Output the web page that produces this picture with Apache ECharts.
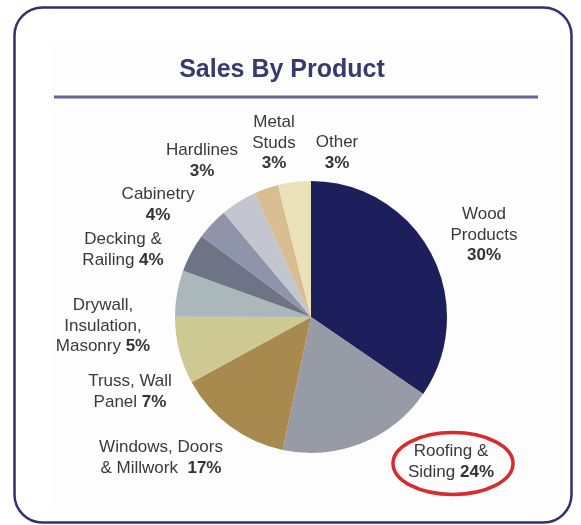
<!DOCTYPE html>
<html><head><meta charset="utf-8">
<script src="https://cdn.jsdelivr.net/npm/echarts@6/dist/echarts.min.js"></script>
<style>html,body{margin:0;padding:0;background:#fff}#c{width:581px;height:525px}</style>
</head><body><div id="c"></div>
<script>
// ---- data ----
const categories = ['Wood Products','Roofing & Siding','Windows, Doors & Millwork','Truss, Wall Panel','Drywall, Insulation, Masonry','Decking & Railing','Cabinetry','Hardlines','Metal Studs','Other'];
// percentages printed on the chart
const labelPct = [30, 24, 17, 7, 5, 4, 4, 3, 3, 3];
// slice sizes as they are drawn in the picture (share of circle, %)
const drawnShare = [34.6, 18.8, 13.7, 8.0, 5.5, 4.6, 3.8, 4.3, 2.9, 3.9];
// label text with the original line breaks (percentage appended)
const labelText = ['Wood\nProducts\n','Roofing &\nSiding ','Windows, Doors\n& Millwork  ','Truss, Wall\nPanel ','Drywall,\nInsulation,\nMasonry ','Decking &\nRailing ','Cabinetry\n','Hardlines\n','Metal\nStuds\n','Other\n'];
const chartTitle = 'Sales By Product';

// ---- styles / layout ----
const colors = ['#1d1f5c','#979ba6','#a88a4e','#cec893','#aab7bb','#6f7386','#8e94aa','#c3c6cf','#d9bd92','#ebe1b8'];
const labelAnchor = [[484,235],[451,462],[161,458],[130,392],[103,326],[123,250],[158,205],[202,161],[274,143],[337,153]];
const FONT = '"Liberation Sans", Arial, Helvetica, sans-serif';

const chart = echarts.init(document.getElementById('c'), null, {renderer:'canvas'});
chart.setOption({
  animation: false,
  backgroundColor: '#ffffff',
  graphic: [
    {type:'rect', z:0, shape:{x:52, y:42, width:511, height:465}, style:{fill:'#fdfdfd'}},
    {type:'rect', z:1, shape:{x:14.5, y:7.5, width:557, height:515, r:28}, style:{fill:'none', stroke:'#2e3270', lineWidth:2.5}},
    {type:'text', z:2, x:282, y:70, style:{text:chartTitle, font:'bold 25px '+FONT, fill:'#363a6e', align:'center', verticalAlign:'middle'}},
    {type:'line', z:2, shape:{x1:54, y1:97, x2:538, y2:97}, style:{stroke:'#62679a', lineWidth:3}},
    {type:'ellipse', z:5, shape:{cx:453, cy:463.5, rx:60, ry:31}, style:{fill:'none', stroke:'#d82b2b', lineWidth:3.5}}
  ],
  series: [{
    type: 'pie',
    center: [311, 317],
    radius: 136,
    startAngle: 90,
    clockwise: true,
    silent: true,
    color: colors,
    itemStyle: {borderWidth: 0},
    labelLine: {show: false},
    label: {
      show: true,
      position: 'outside',
      color: '#3a3a3a',
      fontFamily: FONT,
      fontSize: 17,
      lineHeight: 20.5,
      align: 'center',
      formatter: p => labelText[p.dataIndex] + '{b|' + labelPct[p.dataIndex] + '%}',
      rich: { b: {fontWeight: 'bold', fontSize: 17, lineHeight: 20.5, color: '#333', fontFamily: FONT} }
    },
    labelLayout: function (params) {
      const a = labelAnchor[params.dataIndex];
      return {x: a[0], y: a[1], align: 'center', verticalAlign: 'middle'};
    },
    data: categories.map((n, i) => ({name: n, value: drawnShare[i]}))
  }]
});
</script></body></html>
